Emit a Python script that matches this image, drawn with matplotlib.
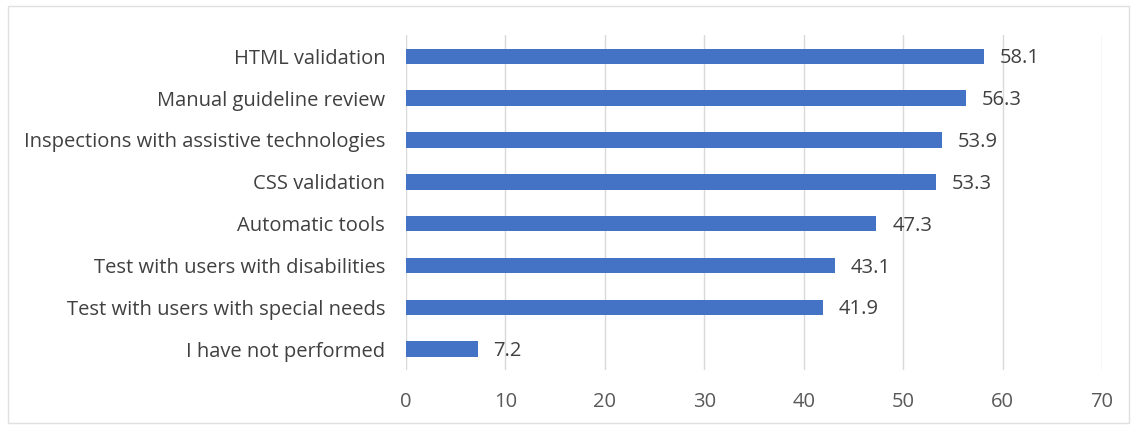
import matplotlib.pyplot as plt
from matplotlib.patches import Rectangle

categories = ["HTML validation", "Manual guideline review",
              "Inspections with assistive technologies", "CSS validation",
              "Automatic tools", "Test with users with disabilities",
              "Test with users with special needs", "I have not performed"]
values = [58.1, 56.3, 53.9, 53.3, 47.3, 43.1, 41.9, 7.2]
xticks = [0, 10, 20, 30, 40, 50, 60, 70]

plt.rcParams['font.family'] = ['Open Sans', 'DejaVu Sans']
fig = plt.figure(figsize=(11.35, 4.29), dpi=100)
ax = fig.add_axes([0.3577, 0.1375, 0.6133, 0.78])

ypos = list(range(len(categories)))
ax.barh(ypos, values, height=0.37, color="#4472C4", zorder=3)
for y, v in zip(ypos, values):
    ax.text(v + 1.6, y + 0.05, str(v), va="center", ha="left", fontsize=14.5, color="#404040")

ax.set_xlim(0, 70)
ax.set_ylim(len(categories) - 0.5, -0.5)
ax.set_yticks(ypos)
ax.set_yticklabels(categories, fontsize=14.5, color="#404040")
ax.set_xticks(xticks)
ax.set_xticklabels([str(t) for t in xticks], fontsize=14.5, color="#595959")
ax.tick_params(length=0)
ax.tick_params(axis="x", pad=16)
ax.tick_params(axis="y", pad=15)
ax.grid(axis="x", color="#d9d9d9", linewidth=1, zorder=0)
for s in ax.spines.values():
    s.set_visible(False)

fig.patches.append(Rectangle((0.007, 0.015), 0.988, 0.97, transform=fig.transFigure,
                             fill=False, edgecolor="#e0e0e0", linewidth=1))
fig.savefig("out.png", dpi=100)
